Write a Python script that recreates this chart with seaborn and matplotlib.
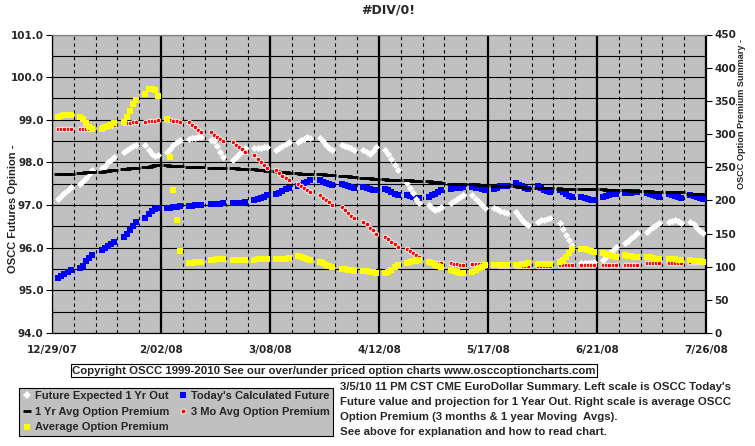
import pandas as pd
import numpy as np
import matplotlib
matplotlib.use('Agg')
import matplotlib.pyplot as plt
from matplotlib.lines import Line2D
import seaborn as sns

# Configuração inicial
sns.set_style("white")
plt.rcParams['font.family'] = ['Liberation Sans', 'DejaVu Sans']
plt.rcParams['font.weight'] = 'bold'
fonte_estreita = ['Liberation Sans Narrow', 'DejaVu Sans']

# Passo 1: dados (um valor por dia útil, 5 por semana)
dias = pd.bdate_range('2007-12-31', '2008-07-25')

futuro_1ano = [97.15, 97.22, 97.28, 97.35, 97.42,  97.50, 97.56, 97.63, 97.72, 97.82,
               97.86, 97.92, 98.00, 98.06, 98.12,  98.24, 98.30, 98.35, 98.38, 98.40,
               98.40, 98.30, 98.20, 98.14, 98.17,  98.24, 98.32, 98.40, 98.47, 98.52,
               98.55, 98.57, 98.58, 98.60, 98.60,  98.52, 98.50, 98.38, 98.25, 98.12,
               98.05, 98.12, 98.20, 98.27, 98.33,  98.33, 98.35, 98.35, 98.36, 98.36,
               98.29, 98.33, 98.38, 98.43, 98.47,  98.47, 98.52, 98.56, 98.59, 98.57,
               98.57, 98.50, 98.42, 98.35, 98.29,  98.40, 98.38, 98.36, 98.33, 98.29,
               98.29, 98.24, 98.20, 98.26, 98.36,  98.29, 98.20, 98.08, 97.95, 97.82,
               97.51, 97.40, 97.28, 97.15, 97.04,  97.00, 96.92, 96.88, 96.90, 96.96,
               97.04, 97.10, 97.15, 97.20, 97.23,  97.23, 97.15, 97.07, 97.00, 96.93,
               96.93, 96.90, 96.87, 96.84, 96.81,  96.83, 96.74, 96.66, 96.58, 96.53,
               96.60, 96.64, 96.66, 96.68, 96.70,  96.58, 96.45, 96.30, 96.18, 96.06,
               95.64, 95.64, 95.65, 95.65, 95.66,  95.71, 95.79, 95.87, 95.94, 96.01,
               96.10, 96.16, 96.22, 96.28, 96.34,  96.37, 96.43, 96.48, 96.53, 96.58,
               96.60, 96.63, 96.65, 96.63, 96.58,  96.60, 96.55, 96.47, 96.40, 96.34]

futuro_hoje = [95.30, 95.33, 95.38, 95.42, 95.48,  95.52, 95.58, 95.70, 95.77, 95.83,
               95.94, 95.99, 96.04, 96.09, 96.13,  96.25, 96.33, 96.42, 96.52, 96.60,
               96.70, 96.78, 96.85, 96.90, 96.93,  96.93, 96.94, 96.95, 96.96, 96.97,
               96.98, 96.98, 96.99, 97.00, 97.00,  97.02, 97.03, 97.03, 97.03, 97.04,
               97.04, 97.05, 97.05, 97.06, 97.07,  97.11, 97.14, 97.17, 97.20, 97.23,
               97.25, 97.29, 97.33, 97.37, 97.40,  97.44, 97.48, 97.52, 97.55, 97.58,
               97.58, 97.55, 97.52, 97.50, 97.47,  97.50, 97.47, 97.45, 97.42, 97.40,
               97.42, 97.40, 97.38, 97.36, 97.35,  97.37, 97.35, 97.30, 97.26, 97.23,
               97.23, 97.21, 97.19, 97.17, 97.16,  97.19, 97.23, 97.27, 97.31, 97.35,
               97.37, 97.39, 97.40, 97.41, 97.42,  97.42, 97.41, 97.39, 97.37, 97.35,
               97.37, 97.40, 97.44, 97.45, 97.44,  97.51, 97.48, 97.44, 97.40, 97.37,
               97.44, 97.40, 97.36, 97.33, 97.30,  97.35, 97.31, 97.27, 97.22, 97.19,
               97.20, 97.17, 97.15, 97.13, 97.11,  97.19, 97.21, 97.23, 97.25, 97.26,
               97.28, 97.29, 97.29, 97.30, 97.30,  97.28, 97.26, 97.24, 97.21, 97.19,
               97.26, 97.23, 97.21, 97.18, 97.16,  97.23, 97.21, 97.18, 97.16, 97.14]

premio_1ano = [239, 239, 239, 240, 240,  241, 241, 242, 242, 243,
               243, 244, 244, 245, 245,  247, 247, 248, 248, 248,
               250, 251, 252, 253, 253,  253, 252, 252, 252, 252,
               251, 251, 250, 250, 250,  249, 249, 249, 248, 248,
               248, 248, 247, 247, 247,  247, 246, 245, 245, 244,
               244, 243, 243, 242, 241,  241, 240, 240, 240, 240,
               239, 239, 238, 238, 238,  237, 236, 236, 235, 235,
               234, 233, 233, 232, 232,  232, 231, 231, 230, 230,
               230, 230, 229, 229, 229,  229, 228, 227, 227, 226,
               225, 225, 225, 225, 225,  224, 224, 223, 223, 223,
               222, 222, 221, 221, 221,  221, 220, 220, 219, 219,
               219, 219, 218, 218, 218,  217, 217, 217, 217, 217,
               217, 217, 217, 217, 217,  217, 216, 216, 215, 215,
               215, 215, 214, 214, 214,  214, 214, 213, 213, 213,
               213, 213, 212, 212, 212,  210, 210, 210, 209, 209]

premio_3meses = [307, 307, 307, 307, 307,  307, 307, 307, 308, 308,
                 310, 311, 312, 312, 313,  316, 316, 317, 318, 318,
                 318, 319, 320, 320, 321,  321, 321, 320, 319, 318,
                 318, 314, 310, 306, 303,  303, 299, 296, 293, 290,
                 288, 284, 280, 277, 273,  268, 263, 258, 253, 248,
                 245, 241, 237, 233, 230,  225, 222, 219, 216, 213,
                 208, 204, 200, 197, 193,  190, 186, 181, 177, 173,
                 168, 164, 159, 155, 150,  145, 141, 137, 134, 130,
                 127, 124, 121, 118, 115,  107, 106, 106, 105, 105,
                 105, 104, 104, 103, 103,  104, 104, 104, 104, 104,
                 102, 102, 101, 101, 101,  101, 101, 101, 101, 101,
                 101, 101, 101, 101, 101,  102, 102, 102, 102, 102,
                 102, 102, 102, 102, 102,  102, 102, 102, 102, 102,
                 103, 103, 103, 103, 103,  105, 105, 105, 105, 105,
                 106, 106, 106, 106, 106,  107, 107, 107, 107, 107]

premio_medio = [326, 327, 328, 328, 328,  326, 322, 316, 311, 308,
                308, 310, 312, 314, 316,  318, 325, 335, 345, 351,
                361, 368, 368, 366, 358,  322, 266, 215, 170, 124,
                106, 106, 107, 107, 107,  110, 110, 111, 111, 111,
                110, 110, 110, 110, 110,  110, 111, 111, 112, 112,
                112, 112, 111, 112, 113,  116, 115, 113, 112, 110,
                107, 105, 103, 101, 99,   97, 96, 95, 95, 94,
                94, 93, 92, 92, 91,       91, 92, 95, 99, 102,
                105, 107, 108, 109, 110,  107, 105, 103, 101, 99,
                95, 93, 92, 91, 90,       92, 95, 98, 100, 102,
                102, 102, 102, 102, 102,  102, 103, 104, 104, 105,
                104, 104, 104, 104, 104,  107, 110, 115, 121, 127,
                127, 126, 125, 123, 122,  120, 119, 117, 116, 115,
                117, 116, 116, 115, 115,  115, 114, 113, 112, 111,
                112, 111, 111, 110, 110,  110, 109, 108, 108, 107]

df = pd.DataFrame({'data': dias, 'futuro_1ano': futuro_1ano, 'futuro_hoje': futuro_hoje,
                   'premio_1ano': premio_1ano, 'premio_3meses': premio_3meses,
                   'premio_medio': premio_medio})

rotulos_datas = pd.date_range('2007-12-29', '2008-07-26', freq='35D')
semanas = pd.date_range('2007-12-29', '2008-07-26', freq='7D')

# Passo 2: figura e eixos
fig = plt.figure(figsize=(7.55, 4.46), dpi=100)
ax = fig.add_axes([52 / 755, 1 - 333 / 446, 654 / 755, 298.5 / 446])
ax.set_facecolor('#C0C0C0')
ax2 = ax.twinx()

# Eixo da esquerda: futuros
sns.scatterplot(data=df, x='data', y='futuro_hoje', ax=ax, marker='s', s=20,
                color='#0000FF', linewidth=0, zorder=3)
sns.scatterplot(data=df, x='data', y='futuro_1ano', ax=ax, marker='D', s=13,
                color='white', linewidth=0, zorder=4)

# Eixo da direita: prêmios
sns.scatterplot(data=df, x='data', y='premio_1ano', ax=ax2, marker='_', s=28,
                color='black', linewidth=2, zorder=2)
sns.scatterplot(data=df, x='data', y='premio_3meses', ax=ax2, marker='o', s=11,
                color='#FF0000', edgecolor='white', linewidth=0.6, zorder=3)
sns.scatterplot(data=df, x='data', y='premio_medio', ax=ax2, marker='s', s=25,
                color='#FFFF00', linewidth=0, zorder=4)

# Escalas
ax.set_xlim(rotulos_datas[0], rotulos_datas[-1])
ax.set_ylim(94, 101)
ax2.set_ylim(0, 450)

ax.set_xticks(rotulos_datas)
ax.set_xticklabels([f"{d.month}/{d.day:02d}/{d.year % 100:02d}" for d in rotulos_datas],
                   fontfamily=fonte_estreita, fontsize=7.5)
ax.set_xticks(semanas, minor=True)
ax.set_yticks(np.arange(94, 101.1, 1))
ax.set_yticklabels([f"{v:.1f}" for v in np.arange(94, 101.1, 1)],
                   fontfamily=fonte_estreita, fontsize=7.5)
ax.set_yticks(np.arange(94, 101.1, 0.5), minor=True)
ax2.set_yticks(np.arange(0, 451, 50))
ax2.set_yticklabels([str(v) for v in range(0, 451, 50)],
                    fontfamily=fonte_estreita, fontsize=7.5)

ax.set_xlabel('')
ax.set_ylabel('')
ax2.set_ylabel('')

# Grade
ax.set_axisbelow(True)
ax.grid(which='major', axis='x', color='black', linewidth=1.6)
ax.grid(which='minor', axis='x', color='black', linewidth=0.8, linestyle=(0, (3, 3)))
ax.grid(which='both', axis='y', color='black', linewidth=0.8)
ax2.grid(False)

ax.tick_params(axis='y', which='major', direction='out', length=4, width=0.8, color='black', pad=2)
ax.tick_params(axis='y', which='minor', length=0)
ax.tick_params(axis='x', which='major', direction='inout', length=6, width=0.8, color='black', pad=6)
ax.tick_params(axis='x', which='minor', direction='in', length=3, width=0.8, color='black')
ax2.tick_params(axis='y', direction='out', length=4, width=0.8, color='black', pad=2)

for a in (ax, ax2):
    for lado in ('left', 'right', 'bottom'):
        a.spines[lado].set_color('black')
        a.spines[lado].set_linewidth(0.8)
    a.spines['top'].set_color('#808080')
    a.spines['top'].set_linewidth(0.8)

# Passo 3: textos
fig.text(388 / 755, 1 - 10 / 446, '#DIV/0!', ha='center', va='center',
         fontfamily=fonte_estreita, fontsize=9)
fig.text(13 / 755, 1 - 209 / 446, 'OSCC Futures Opinion -', rotation=90,
         ha='center', va='center', fontsize=8)
fig.text(741 / 755, 1 - 114 / 446, 'OSCC Option Premium Summary -', rotation=90,
         ha='center', va='center', fontsize=6.6)

fig.text(334 / 755, 1 - 370.5 / 446,
         'Copyright OSCC 1999-2010 See our over/under priced option charts www.osccoptioncharts.com',
         ha='center', va='center', fontsize=8.2,
         bbox=dict(boxstyle='square,pad=0.15', facecolor='white', edgecolor='black', linewidth=0.8))

linhas_texto = ["3/5/10 11 PM CST CME EuroDollar Summary. Left scale is OSCC Today's",
                "Future value and projection for 1 Year Out. Right scale is average OSCC",
                "Option Premium (3 months & 1 year Moving  Avgs).",
                "See above for explanation and how to read chart."]
for i, linha in enumerate(linhas_texto):
    fig.text(340 / 755, 1 - (387 + 15 * i) / 446, linha, ha='left', va='center', fontsize=8.2)

# Legenda
alcas = [
    Line2D([], [], ls='none', marker='D', ms=4, color='white', mew=0),
    Line2D([], [], ls='none', marker='_', ms=6, color='black', mew=2),
    Line2D([], [], ls='none', marker='s', ms=5, color='#FFFF00', mew=0),
    Line2D([], [], ls='none', marker='s', ms=5, color='#0000FF', mew=0),
    Line2D([], [], ls='none', marker='o', ms=3.5, color='#FF0000', mec='white', mew=0.6),
]
nomes = ['Future Expected 1 Yr Out', '1 Yr Avg Option Premium', 'Average Option Premium',
         "Today's Calculated Future", '3 Mo Avg Option Premium']
leg = fig.legend(alcas, nomes, ncol=2, loc='upper left',
                 bbox_to_anchor=(19 / 755, 1 - 388 / 446), fontsize=8,
                 frameon=True, fancybox=False, facecolor='#C0C0C0', edgecolor='black',
                 framealpha=1, handlelength=0.8, handletextpad=0.3, columnspacing=0.9,
                 labelspacing=0.5, borderpad=0.3, borderaxespad=0)
leg.get_frame().set_linewidth(0.8)

fig.savefig('out.png', dpi=100, facecolor='white')
